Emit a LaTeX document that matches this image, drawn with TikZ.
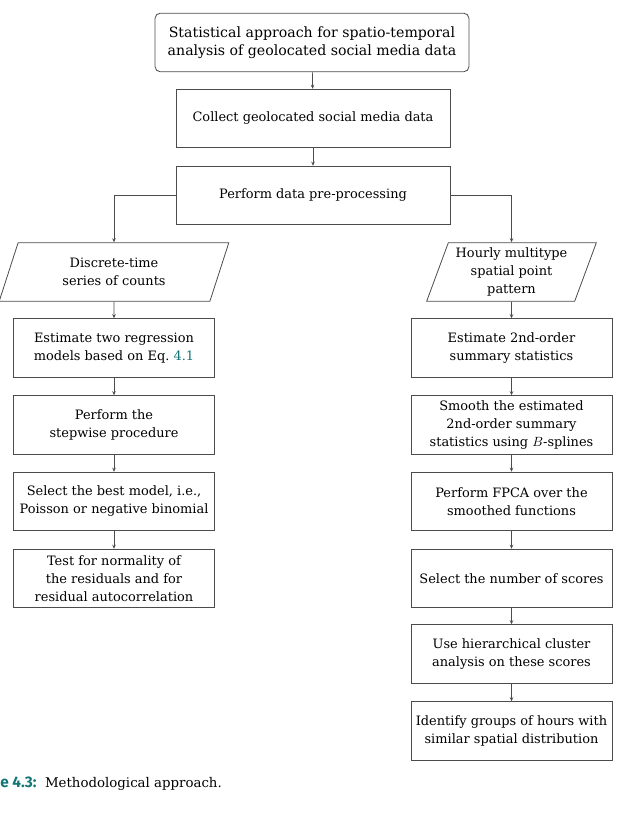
\documentclass[tikz,border=0pt]{standalone}
\usepackage{fontspec}
\setmainfont{DejaVu Serif}
\newfontfamily\capfont{Fira Sans}
\usepackage{tikz}
\usetikzlibrary{positioning,arrows.meta,shapes.geometric}
\definecolor{refteal}{RGB}{20,115,115}

\begin{document}
\begin{tikzpicture}[x=0.75pt,y=-0.75pt,
  stepbox/.style={draw=black!70, line width=0.6pt, align=center, minimum width=150.75pt,
    minimum height=44pt, inner sep=1pt, font=\fontsize{9.7}{13.5}\selectfont},
  databox/.style={trapezium, trapezium stretches=true, draw=black!70, line width=0.6pt,
    align=center, minimum height=44pt, inner sep=1pt, font=\fontsize{9.7}{13.5}\selectfont},
  flow/.style={draw=black!70, line width=0.5pt, -{Stealth[length=3pt,width=2.6pt]}}]
\useasboundingbox (0,0) rectangle (618,816);
% top of the flow
\node[stepbox, rounded corners=4pt, minimum width=235.5pt, font=\fontsize{10.6}{13.8}\selectfont]
  (aim) at (312,42.5) {Statistical approach for spatio-temporal\\analysis of geolocated social media data};
\node[stepbox, minimum width=205.5pt] (collect) at (313,118.5) {Collect geolocated social media data};
\node[stepbox, minimum width=205.5pt] (prep) at (313,195.5) {Perform data pre-processing};
% two data types
\node[databox, trapezium left angle=71, trapezium right angle=109, minimum width=172.5pt]
  (series) at (114,272) {Discrete-time\\series of counts};
\node[databox, trapezium left angle=69, trapezium right angle=111, minimum width=127.5pt]
  (pattern) at (511.5,272) {Hourly multitype\\spatial point\\pattern};
% left branch
\node[stepbox] (regr) at (114,348) {Estimate two regression\\models based on Eq.~\textcolor{refteal}{4.1}};
\node[stepbox] (stepw) at (114,425) {Perform the\\stepwise procedure};
\node[stepbox] (best) at (114,501.5) {Select the best model, i.e.,\\Poisson or negative binomial};
\node[stepbox] (resid) at (114,578.5) {Test for normality of\\the residuals and for\\residual autocorrelation};
% right branch
\node[stepbox] (summ) at (511.5,348) {Estimate 2nd-order\\summary statistics};
\node[stepbox] (smooth) at (511.5,425) {Smooth the estimated\\2nd-order summary\\statistics using $B$-splines};
\node[stepbox] (fpca) at (511.5,501.5) {Perform FPCA over the\\smoothed functions};
\node[stepbox] (scores) at (511.5,578.5) {Select the number of scores};
\node[stepbox] (clust) at (511.5,654) {Use hierarchical cluster\\analysis on these scores};
\node[stepbox] (groups) at (511.5,731) {Identify groups of hours with\\similar spatial distribution};
% caption
\node[anchor=base west, inner sep=0pt, font=\fontsize{10}{13.5}\selectfont] (cap) at (0,787)
  {\textcolor{refteal}{\capfont\bfseries\fontsize{11.5}{13.5}\selectfont e 4.3:}\ \ Methodological approach.};
% connectors
\draw[flow] (aim) -- (collect);
\draw[flow] (collect) -- (prep);
\draw[flow] (prep.west) -| (series);
\draw[flow] (prep.east) -| (pattern);
\foreach \a/\b in {series/regr, regr/stepw, stepw/best, best/resid,
  pattern/summ, summ/smooth, smooth/fpca, fpca/scores, scores/clust, clust/groups}
  \draw[flow] (\a) -- (\b);
\end{tikzpicture}
\end{document}
